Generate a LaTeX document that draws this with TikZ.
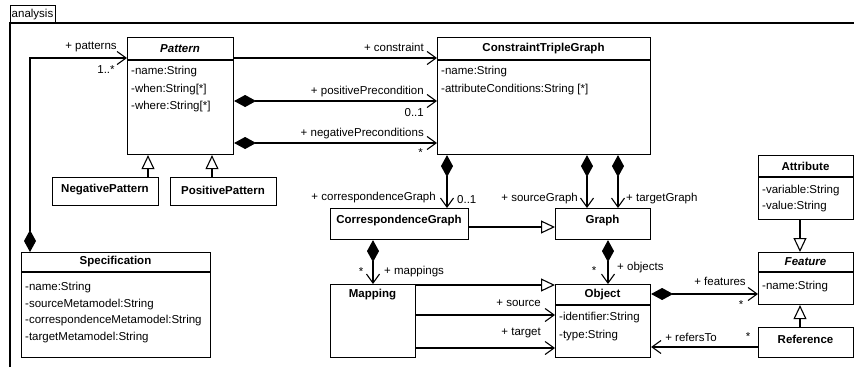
\documentclass[tikz,border=0pt]{standalone}
\usepackage{fontspec}
\setmainfont{Liberation Sans}
\usetikzlibrary{arrows.meta}
\newcommand\fs{\fontsize{11.5pt}{13pt}\selectfont}
\tikzset{
  box/.style={draw, line width=1.1pt, anchor=north west, inner sep=0pt, minimum width=#1},
  ttl/.style={font=\fs\bfseries, inner sep=0pt},
  attr/.style={font=\fs, anchor=west, inner sep=0pt},
  lbl/.style={font=\fs, inner sep=0pt},
  sepline/.style={line width=1.1pt},
  assoc/.style={line width=1.1pt, -{Straight Barb[length=9pt,width=13pt,line width=1.1pt]}},
  comp/.style={line width=1.1pt, {Diamond[length=22pt,width=12pt]}-{Straight Barb[length=9pt,width=13pt,line width=1.1pt]}},
  gen/.style={line width=1.1pt, -{Triangle[open,length=14pt,width=13pt,line width=1.1pt]}},
}
\begin{document}
\begin{tikzpicture}[x=1pt,y=-1pt]
\useasboundingbox (0,0) rectangle (854,367);
% frame
\draw[line width=1.1pt] (10,367) -- (10,23) -- (854,23);
\node[draw, line width=1.1pt, anchor=north west, minimum width=45pt, minimum height=18pt, inner sep=0pt] (tab) at (10,5) {};
\node[lbl] (tabtxt) at (32.5,14.5) {analysis};

% boxes
\node[box=106pt, minimum height=117pt] (pat) at (127,37) {};
\node[box=213pt, minimum height=117pt] (ctg) at (437,37) {};
\node[box=106pt, minimum height=28pt] (neg) at (52,177) {};
\node[box=106pt, minimum height=28pt] (pos) at (170,177) {};
\node[box=189pt, minimum height=105pt] (spec) at (21,252) {};
\node[box=138pt, minimum height=31pt] (corr) at (330,208) {};
\node[box=95pt, minimum height=31pt] (graph) at (555,208) {};
\node[box=85pt, minimum height=73pt] (map) at (330,284) {};
\node[box=95pt, minimum height=73pt] (obj) at (555,284) {};
\node[box=95pt, minimum height=64pt] (attrib) at (758,155) {};
\node[box=95pt, minimum height=52pt] (feat) at (758,252) {};
\node[box=95pt, minimum height=30pt] (ref) at (758,327) {};

% separators
\draw[sepline] ([yshift=-23pt]pat.north west) -- ([yshift=-23pt]pat.north east);
\draw[sepline] ([yshift=-23pt]ctg.north west) -- ([yshift=-23pt]ctg.north east);
\draw[sepline] ([yshift=-20pt]spec.north west) -- ([yshift=-20pt]spec.north east);
\draw[sepline] ([yshift=-21pt]obj.north west) -- ([yshift=-21pt]obj.north east);
\draw[sepline] ([yshift=-22pt]attrib.north west) -- ([yshift=-22pt]attrib.north east);
\draw[sepline] ([yshift=-20pt]feat.north west) -- ([yshift=-20pt]feat.north east);

% titles
\node[ttl] (patT) at (180,48.5) {\textit{Pattern}};
\node[ttl] (ctgT) at (543.5,48.5) {ConstraintTripleGraph};
\node[ttl] (negT) at (105,190) {NegativePattern};
\node[ttl] (posT) at (223,190) {PositivePattern};
\node[ttl] (specT) at (115.5,262) {Specification};
\node[ttl] (corrT) at (399,221) {CorrespondenceGraph};
\node[ttl] (graphT) at (602.5,221) {Graph};
\node[ttl] (mapT) at (372.5,295) {Mapping};
\node[ttl] (objT) at (602.5,295) {Object};
\node[ttl] (attribT) at (805.5,166) {Attribute};
\node[ttl] (featT) at (805.5,262) {\textit{Feature}};
\node[ttl] (refT) at (805.5,339) {Reference};

% attributes
\node[attr] (pa1) at (131,72) {-name:String};
\node[attr] (pa2) at (131,90) {-when:String[*]};
\node[attr] (pa3) at (131,107) {-where:String[*]};
\node[attr] (ca1) at (441,72) {-name:String};
\node[attr] (ca2) at (441,90) {-attributeConditions:String [*]};
\node[attr] (sa1) at (25,288) {-name:String};
\node[attr] (sa2) at (25,304.5) {-sourceMetamodel:String};
\node[attr] (sa3) at (25,321) {-correspondenceMetamodel:String};
\node[attr] (sa4) at (25,337.5) {-targetMetamodel:String};
\node[attr] (oa1) at (559,318) {-identifier:String};
\node[attr] (oa2) at (559,336) {-type:String};
\node[attr] (aa1) at (762,191) {-variable:String};
\node[attr] (aa2) at (762,207) {-value:String};
\node[attr] (fa1) at (762,287) {-name:String};

% connectors
\draw[comp] ([xshift=9pt]spec.north west) |- ([yshift=-21pt]pat.north west);
\node[lbl] (lpat) at (91,47) {+ patterns};
\node[lbl] (mpat) at (106,70) {1..*};

\draw[assoc] ([yshift=-21pt]pat.north east) -- ([yshift=-21pt]ctg.north west);
\node[lbl, anchor=east] (lcon) at (424,47) {+ constraint};

\draw[comp] ([yshift=-64pt]pat.north east) -- ([yshift=-64pt]ctg.north west);
\node[lbl, anchor=east] (lpos) at (424,92) {+ positivePrecondition};
\node[lbl, anchor=east] (mpos) at (424,113) {0..1};

\draw[comp] ([yshift=-106pt]pat.north east) -- ([yshift=-106pt]ctg.north west);
\node[lbl, anchor=east] (lnegp) at (424,134) {+ negativePreconditions};
\node[lbl, anchor=east] (mnegp) at (423,153) {*};

\draw[gen] ([xshift=21pt]pat.south west |- neg.north) -- ([xshift=21pt]pat.south west);
\draw[gen] ([xshift=85pt]pat.south west |- pos.north) -- ([xshift=85pt]pat.south west);

\draw[comp] ([xshift=10pt]ctg.south west) -- ([xshift=10pt]ctg.south west |- corr.north);
\node[lbl, anchor=east] (lcorr) at (436,198) {+ correspondenceGraph};
\node[lbl, anchor=west] (mcorr) at (457,200) {0..1};

\draw[comp] ([xshift=150pt]ctg.south west) -- ([xshift=150pt]ctg.south west |- graph.north);
\node[lbl, anchor=east] (lsrc) at (578,199) {+ sourceGraph};

\draw[comp] ([xshift=181pt]ctg.south west) -- ([xshift=181pt]ctg.south west |- graph.north);
\node[lbl, anchor=west] (ltgt) at (626,199) {+ targetGraph};

\draw[gen] ([yshift=-19pt]corr.north east) -- ([yshift=-19pt]graph.north west);

\draw[comp] ([xshift=43pt]corr.south west) -- ([xshift=43pt]corr.south west |- map.north);
\node[lbl] (mmap) at (361,272) {*};
\node[lbl, anchor=west] (lmap) at (384,272) {+ mappings};

\draw[gen] ([yshift=-1pt]map.north east) -- ([yshift=-1pt]obj.north west);

\draw[assoc] ([yshift=-31pt]map.north east) -- ([yshift=-31pt]obj.north west);
\node[lbl, anchor=east] (lsource) at (541,303) {+ source};
\draw[assoc] ([yshift=-64pt]map.north east) -- ([yshift=-64pt]obj.north west);
\node[lbl, anchor=east] (ltarget) at (541,333) {+ target};

\draw[comp] ([xshift=53pt]graph.south west) -- ([xshift=53pt]graph.south west |- obj.north);
\node[lbl] (mobj) at (594,271) {*};
\node[lbl, anchor=west] (lobj) at (617,268) {+ objects};

\draw[comp] ([yshift=-10pt]obj.north east) -- ([yshift=-10pt]obj.north east -| feat.west);
\node[lbl] (lfeat) at (720,281) {+ features};
\node[lbl] (mfeat) at (741,305) {*};

\draw[assoc] ([yshift=-20pt]ref.north west) -- ([yshift=-20pt]ref.north west -| obj.east);
\node[lbl] (lref) at (691,337) {+ refersTo};
\node[lbl] (mref) at (748,337) {*};

\draw[gen] ([xshift=42pt]attrib.south west) -- ([xshift=42pt]attrib.south west |- feat.north);
\draw[gen] ([xshift=42pt]ref.north west) -- ([xshift=42pt]ref.north west |- feat.south);
\end{tikzpicture}
\end{document}
